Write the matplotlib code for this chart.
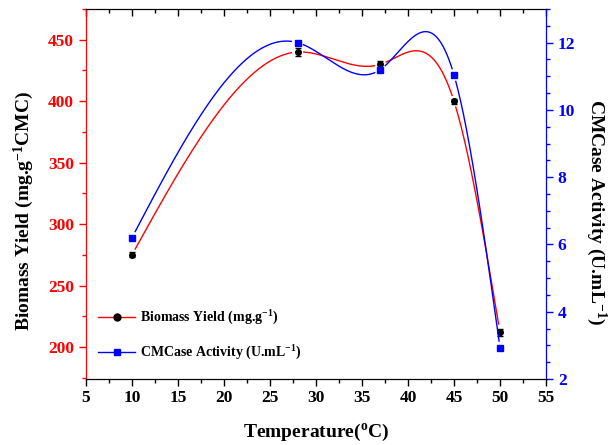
import numpy as np
import matplotlib.pyplot as plt

plt.rcParams['font.family'] = ['Liberation Serif', 'DejaVu Serif']
plt.rcParams['font.weight'] = 'bold'
plt.rcParams['axes.labelweight'] = 'bold'
plt.rcParams['mathtext.fontset'] = 'custom'
plt.rcParams['mathtext.rm'] = 'Liberation Serif:bold'
plt.rcParams['mathtext.default'] = 'rm'

temp = [10, 28, 37, 45, 50]
biomass = [275, 440, 430, 400, 212]
biomass_err = [2, 3, 3, 2, 3]
cmcase = [6.2, 12.0, 11.2, 11.04, 2.93]
cmcase_err = [0.05, 0.06, 0.08, 0.06, 0.06]


def natural_spline(x, y, xs):
    x = np.asarray(x, float)
    y = np.asarray(y, float)
    n = len(x)
    h = np.diff(x)
    A = np.zeros((n, n))
    b = np.zeros(n)
    A[0, 0] = A[-1, -1] = 1
    for i in range(1, n - 1):
        A[i, i - 1] = h[i - 1]
        A[i, i] = 2 * (h[i - 1] + h[i])
        A[i, i + 1] = h[i]
        b[i] = 6 * ((y[i + 1] - y[i]) / h[i] - (y[i] - y[i - 1]) / h[i - 1])
    M = np.linalg.solve(A, b)
    out = np.empty_like(xs)
    for k, xv in enumerate(xs):
        i = min(max(np.searchsorted(x, xv) - 1, 0), n - 2)
        t1 = x[i + 1] - xv
        t0 = xv - x[i]
        out[k] = (M[i] * t1 ** 3 / (6 * h[i]) + M[i + 1] * t0 ** 3 / (6 * h[i])
                  + (y[i] / h[i] - M[i] * h[i] / 6) * t1
                  + (y[i + 1] / h[i] - M[i + 1] * h[i] / 6) * t0)
    return out


def gapped(ax, xs, ys, px, py, gap=6):
    # leave a small gap in the curve around each marker
    d = ax.transData.transform(np.column_stack([xs, ys]))
    p = ax.transData.transform(np.column_stack([px, py]))
    ys = ys.copy()
    for q in p:
        ys[np.hypot(d[:, 0] - q[0], d[:, 1] - q[1]) < gap] = np.nan
    return ys


fig = plt.figure(figsize=(6.08, 4.45), dpi=100)
ax = fig.add_axes([0.1414, 0.1483, 0.7566, 0.8315])
ax2 = ax.twinx()

ax.set_xlim(5, 55)
ax.set_ylim(174, 475)
ax2.set_ylim(2, 13)

xs = np.linspace(10, 50, 800)
yb = natural_spline(temp, biomass, xs)
yc = natural_spline(temp, cmcase, xs)

ax.plot(xs, gapped(ax, xs, yb, temp, biomass), color='red', lw=1)
ax.errorbar(temp, biomass, yerr=biomass_err, fmt='o', color='black', ms=4,
            capsize=2, elinewidth=1)
ax2.plot(xs, gapped(ax2, xs, yc, temp, cmcase), color='blue', lw=1)
ax2.errorbar(temp, cmcase, yerr=cmcase_err, fmt='s', color='blue', ms=4,
             capsize=2, elinewidth=1)

# legend
ax.plot([], [], color='red', lw=1, marker='o', mfc='black', mec='black', ms=5,
        label='Biomass Yield (mg.g$^{-1}$)')
ax.plot([], [], color='blue', lw=1, marker='s', ms=5,
        label='CMCase Activity (U.mL$^{-1}$)')
h, l = ax.get_legend_handles_labels()
ax.legend(h[-2:], l[-2:], loc='lower left', bbox_to_anchor=(0.0, 0.012),
          frameon=False, fontsize=10, handlelength=2.6, handletextpad=0.4,
          labelspacing=1.2)

ax.set_xticks(np.arange(5, 56, 5))
ax.set_xticks(np.arange(5, 56, 2.5), minor=True)
ax.set_yticks(np.arange(200, 451, 50))
ax.set_yticks(np.arange(175, 476, 25), minor=True)
ax2.set_yticks(np.arange(2, 13, 2))
ax2.set_yticks(np.arange(2, 13.01, 0.5), minor=True)

ax.tick_params(axis='x', which='both', direction='out', top=True, labelsize=12.5,
               pad=3)
ax.tick_params(axis='x', which='major', length=5, width=1)
ax.tick_params(axis='x', which='minor', length=3, width=1)
ax.tick_params(axis='y', which='both', colors='red', labelsize=12.5, width=1)
ax.tick_params(axis='y', which='major', length=5)
ax.tick_params(axis='y', which='minor', length=3)
ax2.tick_params(axis='y', which='both', colors='blue', labelsize=12.5, width=1)
ax2.tick_params(axis='y', which='major', length=5)
ax2.tick_params(axis='y', which='minor', length=3)
# top ticks point inward
for t in ax.xaxis.get_ticklines(minor=False)[1::2] + ax.xaxis.get_ticklines(minor=True)[1::2]:
    t.set_marker(3)

ax2.spines['left'].set_color('red')
ax2.spines['right'].set_color('blue')
ax.spines['left'].set_color('red')

ax.set_xlabel('Temperature($\\mathregular{^o}$C)', fontsize=14, labelpad=11)
ax.set_ylabel('Biomass Yield (mg.g$^{-1}$CMC)', fontsize=14)
ax.yaxis.set_label_coords(-0.108, 0.455)
ax2.set_ylabel('CMCase Activity (U.mL$^{-1}$)', fontsize=14, rotation=270,
               va='bottom')
ax2.yaxis.set_label_coords(1.083, 0.45)

fig.savefig('out.png', dpi=100)
